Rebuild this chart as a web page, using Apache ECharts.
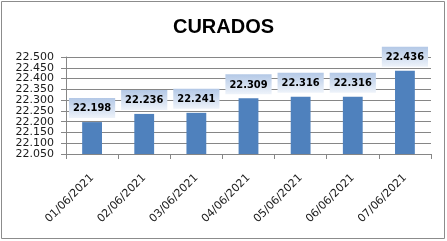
<!DOCTYPE html>
<html><head><meta charset="utf-8">
<script src="https://cdn.jsdelivr.net/npm/echarts@6/dist/echarts.min.js"></script>
<style>html,body{margin:0;padding:0;background:#fff}#c{width:447px;height:241px}</style>
</head><body><div id="c"></div>
<script>
const categories = ["01/06/2021","02/06/2021","03/06/2021","04/06/2021","05/06/2021","06/06/2021","07/06/2021"];
const values = [22198, 22236, 22241, 22309, 22316, 22316, 22436];
const yTicks = {min: 22050, max: 22500, interval: 50};
const title = "CURADOS";

function fmt(v){ const s = String(Math.round(v)); return s.slice(0, s.length-3) + "." + s.slice(-3); }
function stepIndex(v){ return Math.round((v - yTicks.min) / yTicks.interval); }

const labelBase = {margin:12, fontFamily:'DejaVu Sans', fontSize:11, color:'#1a1a1a', showMinLabel:true, showMaxLabel:true};
function yAxisDef(parity, main){
  return {type:'value', position:'left', min:yTicks.min, max:yTicks.max, interval:yTicks.interval,
    axisLine:{show:main, lineStyle:{color:'#868686'}},
    axisTick:{show:main, length:5, lineStyle:{color:'#868686'}},
    splitLine:{show:main, lineStyle:{color:'#868686', width:1}},
    axisLabel:Object.assign({}, labelBase, {formatter:v => (stepIndex(v) % 2 === parity) ? fmt(v) : ''})};
}

const chart = echarts.init(document.getElementById('c'), null, {renderer:'canvas'});
chart.setOption({
  animation:false,
  backgroundColor:'#fff',
  title:{text:title, left:'center', top:12, textStyle:{fontFamily:'Liberation Sans', fontWeight:'bold', fontSize:20, color:'#000'}},
  graphic:[{type:'rect', shape:{x:1.5,y:1.5,width:443,height:237}, style:{fill:'none', stroke:'#8c8c8c', lineWidth:1}, silent:true}],
  grid:{left:66, right:16, top:57, bottom:87},
  xAxis:{type:'category', data:categories, boundaryGap:true,
    axisLine:{show:true, lineStyle:{color:'#868686'}},
    axisTick:{show:true, length:5, lineStyle:{color:'#868686'}},
    axisLabel:{rotate:45, margin:22, fontFamily:'DejaVu Sans', fontSize:11, color:'#1a1a1a', interval:0}},
  yAxis:[yAxisDef(0, true), yAxisDef(1, false)],
  series:[{type:'bar', data:values, barWidth:'38%', yAxisIndex:0,
    itemStyle:{color:'#4f81bd'},
    label:{show:true, position:'top', distance:4, formatter:p=>fmt(p.value),
      fontFamily:'DejaVu Sans Condensed, DejaVu Sans', fontWeight:'bold', fontSize:11, color:'#000',
      padding:[5,4,4,4],
      backgroundColor:{type:'linear',x:0,y:0,x2:0,y2:1,colorStops:[{offset:0,color:'#b3c8e6'},{offset:1,color:'#eef3fa'}]}}
  }]
});
</script></body></html>
